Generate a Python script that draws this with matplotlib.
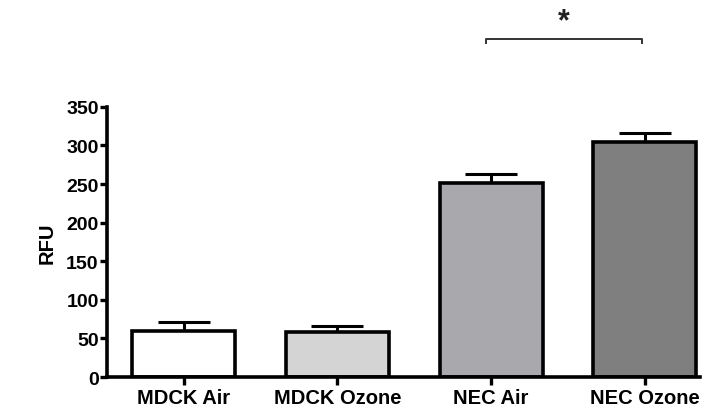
import matplotlib
matplotlib.use("Agg")
import matplotlib.pyplot as plt

categories = ["MDCK Air", "MDCK Ozone", "NEC Air", "NEC Ozone"]
values = [59, 58, 251, 304]
errors = [12, 8, 12, 12]
colors = ["#ffffff", "#d4d4d4", "#a9a9ad", "#7f7f7f"]
yticks = [0, 50, 100, 150, 200, 250, 300, 350]

plt.rcParams['font.family'] = ['Liberation Sans', 'DejaVu Sans']

fig = plt.figure(figsize=(7.18, 4.10), dpi=100)
ax = fig.add_axes([0.149, 0.078, 0.826, 0.659])

x = list(range(len(categories)))
ax.errorbar(x, values, yerr=[[0]*len(values), errors], fmt='none', ecolor='black',
            elinewidth=2.2, capsize=18.5, capthick=2.2, zorder=1)
ax.bar(x, values, width=0.67, color=colors, edgecolor='black', linewidth=2.6, zorder=2)

ax.set_xlim(-0.5, 3.36)
ax.set_ylim(0, 350)
ax.set_yticks(yticks)
ax.set_xticks(x)
ax.set_xticklabels(categories, fontsize=14.5, fontweight='bold')
ax.tick_params(axis='y', labelsize=14, width=2.4, length=5, pad=1)
ax.tick_params(axis='x', width=2.4, length=6, pad=2)
for lab in ax.get_yticklabels():
    lab.set_fontweight('bold')
ax.set_ylabel("RFU", fontsize=14.5, fontweight='bold', labelpad=7)

for s in ['top', 'right']:
    ax.spines[s].set_visible(False)
for s in ['left', 'bottom']:
    ax.spines[s].set_linewidth(2.6)

# significance bracket
yb = 438
ax.plot([1.97, 1.97, 2.98, 2.98], [yb - 5, yb, yb, yb - 5], color='#333333', lw=1.4,
        clip_on=False)
ax.text(2.475, yb + 3, "*", ha='center', va='bottom', fontsize=22, fontweight='bold',
        color='#222222')

fig.savefig("out.png", dpi=100)
